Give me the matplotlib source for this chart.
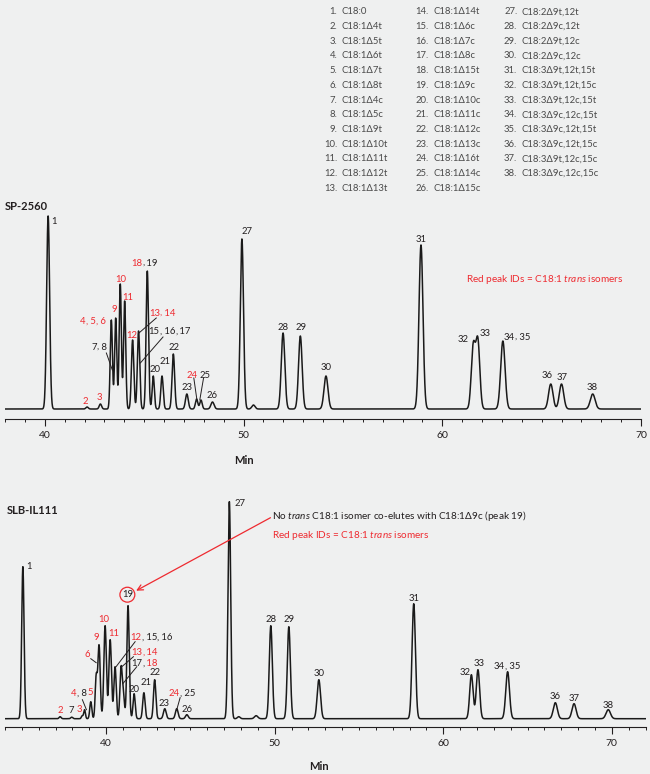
import numpy as np
import matplotlib
matplotlib.use("Agg")
import matplotlib.pyplot as plt
from matplotlib.ticker import MultipleLocator
from matplotlib.offsetbox import TextArea, HPacker, AnnotationBbox

plt.rcParams['font.family'] = ['Lato', 'DejaVu Sans']
plt.rcParams['mathtext.fontset'] = 'custom'
plt.rcParams['mathtext.rm'] = 'Lato'
plt.rcParams['mathtext.it'] = 'Lato:italic'

RED = '#ee2a30'
INK = '#231f20'
BG = '#eff0f0'
FS = 6.8

# ── peak key ────────────────────────────────────────────────────────────
COMPOUNDS = [
    "C18:0", "C18:1Δ4t", "C18:1Δ5t", "C18:1Δ6t", "C18:1Δ7t", "C18:1Δ8t",
    "C18:1Δ4c", "C18:1Δ5c", "C18:1Δ9t", "C18:1Δ10t", "C18:1Δ11t",
    "C18:1Δ12t", "C18:1Δ13t", "C18:1Δ14t", "C18:1Δ6c", "C18:1Δ7c",
    "C18:1Δ8c", "C18:1Δ15t", "C18:1Δ9c", "C18:1Δ10c", "C18:1Δ11c",
    "C18:1Δ12c", "C18:1Δ13c", "C18:1Δ16t", "C18:1Δ14c", "C18:1Δ15c",
    "C18:2Δ9t,12t", "C18:2Δ9c,12t", "C18:2Δ9t,12c", "C18:2Δ9c,12c",
    "C18:3Δ9t,12t,15t", "C18:3Δ9t,12t,15c", "C18:3Δ9t,12c,15t",
    "C18:3Δ9c,12c,15t", "C18:3Δ9c,12t,15t", "C18:3Δ9c,12t,15c",
    "C18:3Δ9t,12c,15c", "C18:3Δ9c,12c,15c",
]
TRANS_IDS = {2, 3, 4, 5, 6, 9, 10, 11, 12, 13, 14, 18, 24}

# ── SP-2560: retention time (min), height, width (sigma, min) ───────────
SP_TIME = [40.17, 42.13, 42.80, 43.35, 43.57, 43.80, 44.02, 44.42, 44.72,
           45.16, 45.46, 45.90, 46.47, 47.15, 47.64, 47.86, 48.44, 49.92,
           50.50, 51.99, 52.86, 54.15, 58.93, 61.56, 61.79, 63.05, 65.46,
           66.00, 67.57]
SP_HEIGHT = [193, 2, 5, 89, 91, 125, 108, 69, 78, 138, 33, 33, 55, 15, 10,
             9, 7, 170, 4, 76, 73, 33, 164, 67, 72, 68, 25, 25, 15]
SP_WIDTH = [0.075, 0.06, 0.06, 0.055, 0.055, 0.055, 0.055, 0.06, 0.06,
            0.06, 0.055, 0.06, 0.065, 0.07, 0.06, 0.06, 0.08, 0.08, 0.08,
            0.09, 0.09, 0.1, 0.1, 0.1, 0.1, 0.11, 0.11, 0.11, 0.12]

SP_LABELS = ["1", "2", "3", "4, 5, 6", "7, 8", "9", "10", "11", "12",
             "13, 14", "15, 16, 17", "18, 19", "20", "21", "22", "23", "24",
             "25", "26", "27", "28", "29", "30", "31", "32", "33", "34, 35",
             "36", "37", "38"]
SP_LAB_X = [40.33, 42.06, 42.76, 42.43, 42.73, 43.50, 43.83, 44.19, 44.37,
            45.91, 46.28, 45.02, 45.53, 46.07, 46.52, 47.14, 47.39, 48.05,
            48.41, 49.91, 51.97, 52.88, 54.16, 58.93, 61.07, 62.15, 63.76,
            65.29, 66.05, 67.52]
SP_LAB_Y = [187, 8, 12, 87, 62, 99, 130, 112, 74, 96, 77, 146, 40, 47, 61,
            22, 34, 34, 14, 177, 82, 82, 41, 170, 70, 75, 72, 33, 32, 22]
SP_LEADERS = [(43.10, 56, 43.40, 39), (45.61, 91, 44.74, 76),
              (45.95, 72, 44.81, 46), (47.50, 31, 47.65, 10),
              (47.99, 31, 47.80, 9)]

# ── SLB-IL111 ───────────────────────────────────────────────────────────
IL_TIME = [35.06, 37.27, 37.96, 38.58, 38.72, 39.09, 39.41, 39.58, 39.94,
           40.24, 40.53, 40.89, 41.03, 41.30, 41.66, 42.24, 42.88, 43.48,
           44.19, 44.79, 47.31, 47.87, 48.90, 49.77, 50.84, 52.62, 58.25,
           61.67, 62.06, 63.82, 66.65, 67.76, 69.79]
IL_HEIGHT = [152, 2, 1.5, 3, 9, 17, 45, 74, 93, 79, 52, 53, 28, 113, 25, 26,
             39, 10, 10, 4, 217, 2, 3, 93, 92, 39, 115, 44, 49, 47, 16, 15, 9]
IL_WIDTH = [0.07, 0.06, 0.06, 0.05, 0.05, 0.06, 0.06, 0.07, 0.075, 0.075,
            0.07, 0.07, 0.06, 0.07, 0.065, 0.07, 0.07, 0.08, 0.08, 0.08,
            0.08, 0.08, 0.1, 0.09, 0.09, 0.1, 0.1, 0.1, 0.1, 0.11, 0.12,
            0.12, 0.13]

IL_LABELS = ["1", "2", "7", "3", "4, 8", "5", "6", "9", "10", "11",
             "12, 15, 16", "13, 14", "17, 18", "20", "21", "22", "23",
             "24, 25", "26", "27", "28", "29", "30", "31", "32", "33",
             "34, 35", "36", "37", "38"]
IL_LAB_X = [35.25, 37.27, 37.92, 38.42, 38.40, 39.05, 38.89, 39.41, 39.88,
            40.43, 42.69, 42.27, 42.27, 41.68, 42.34, 42.88, 43.46, 44.49,
            44.82, 47.59, 49.77, 50.84, 52.62, 58.25, 61.29, 62.12, 63.77,
            66.65, 67.76, 69.79]
IL_LAB_Y = [152, 8, 8, 9, 25, 26, 64, 81, 99, 85, 81, 66, 55, 29, 36, 46,
            15, 25, 9, 215, 99, 99, 45, 120, 46, 55, 52, 22, 20, 13]
IL_LEADERS = [(38.59, 19, 38.83, 9), (39.09, 60, 39.41, 56),
              (41.72, 77, 40.59, 52), (41.62, 62, 40.93, 52),
              (41.82, 52, 40.99, 35), (44.39, 21, 44.19, 9)]
LEFT_LABELS = {"1", "27"}


def trace(t, times, heights, widths):
    times = np.array(times)
    widths = np.array(widths)
    # amplitudes so that the summed signal reaches the read height at each apex
    m = np.exp(-0.5 * ((times[:, None] - times[None, :]) / widths[None, :]) ** 2)
    amp = np.linalg.solve(m, np.array(heights, dtype=float))
    return (amp[None, :] * np.exp(-0.5 * ((t[:, None] - times[None, :]) / widths[None, :]) ** 2)).sum(axis=1)


def draw_label(ax, text, x, y, left=False):
    ids = text.split(", ")
    areas = []
    for i, pid in enumerate(ids):
        red = int(pid) in TRANS_IDS
        s = pid if i == 0 else " " + pid
        areas.append(TextArea(s, textprops=dict(color=RED if red else INK, fontsize=FS)))
        if i < len(ids) - 1:
            both = red and int(ids[i + 1]) in TRANS_IDS
            areas.append(TextArea(",", textprops=dict(color=RED if both else INK, fontsize=FS)))
    box = HPacker(children=areas, align="baseline", pad=0, sep=0)
    ab = AnnotationBbox(box, (x, y), frameon=False, pad=0,
                        box_alignment=(0 if left else 0.5, 0.5))
    ax.add_artist(ab)


def style_axis(ax, x0, x1):
    ax.set_facecolor(BG)
    for s in ["left", "right", "top"]:
        ax.spines[s].set_visible(False)
    ax.spines["bottom"].set_color(INK)
    ax.spines["bottom"].set_linewidth(0.8)
    ax.set_yticks([])
    ax.set_xlim(x0, x1)
    ax.set_xticks(range(40, 71, 10))
    ax.xaxis.set_minor_locator(MultipleLocator(1))
    ax.tick_params(axis="x", which="major", length=5, width=0.8, color=INK,
                   labelsize=7.5, labelcolor=INK, pad=4)
    ax.tick_params(axis="x", which="minor", length=2.4, width=0.7, color=INK)


fig = plt.figure(figsize=(6.5, 7.74), dpi=100, facecolor=BG)

# key table
rows = 13
num_x = [337.3, 428.3, 517.3]
txt_x = [341.7, 433.3, 521.7]
for i, name in enumerate(COMPOUNDS):
    col, row = divmod(i, rows)
    ypx = 11.7 + row * 14.72
    fig.text(num_x[col] / 650, 1 - ypx / 774, f"{i + 1}.", ha="right",
             va="center", fontsize=FS, color="#4a4a4a")
    fig.text(txt_x[col] / 650, 1 - ypx / 774, name, ha="left",
             va="center", fontsize=FS, color="#4a4a4a")

# SP-2560
ax1 = fig.add_axes([5 / 650, 1 - 419 / 774, 636 / 650, 214 / 774])
style_axis(ax1, 38, 70)
ax1.set_ylim(-10, 204)
t1 = np.linspace(38, 70, 9000)
ax1.plot(t1, trace(t1, SP_TIME, SP_HEIGHT, SP_WIDTH), color="#1a1a1a", lw=1.1)
for lab, x, y in zip(SP_LABELS, SP_LAB_X, SP_LAB_Y):
    draw_label(ax1, lab, x, y, left=lab in LEFT_LABELS)
for x0, y0, x1, y1 in SP_LEADERS:
    ax1.plot([x0, x1], [y0, y1], color=INK, lw=0.7)
ax1.text(65.18, 129, r"Red peak IDs = C18:1 $\mathit{trans}$ isomers",
         color=RED, ha="center", va="center", fontsize=7.2)

# SLB-IL111
ax2 = fig.add_axes([5 / 650, 1 - 726.7 / 774, 640.5 / 650, 241.7 / 774])
style_axis(ax2, 34, 72)
ax2.set_ylim(-8, 233.7)
t2 = np.linspace(34, 72, 9000)
ax2.plot(t2, trace(t2, IL_TIME, IL_HEIGHT, IL_WIDTH), color="#1a1a1a", lw=1.1)
for lab, x, y in zip(IL_LABELS, IL_LAB_X, IL_LAB_Y):
    draw_label(ax2, lab, x, y, left=lab in LEFT_LABELS)
for x0, y0, x1, y1 in IL_LEADERS:
    ax2.plot([x0, x1], [y0, y1], color=INK, lw=0.7)
ax2.text(41.26, 124, "19", ha="center", va="center", fontsize=FS, color=INK,
         bbox=dict(boxstyle="circle,pad=0.2", fc="none", ec=RED, lw=0.9))
ax2.annotate("", xy=(41.78, 128), xytext=(49.75, 201),
             arrowprops=dict(arrowstyle="->", color=RED, lw=0.9,
                             shrinkA=0, shrinkB=0))
ax2.text(49.85, 203,
         r"No $\mathit{trans}$ C18:1 isomer co-elutes with C18:1Δ9c (peak 19)",
         color=INK, ha="left", va="center", fontsize=7.2)
ax2.text(49.85, 183, r"Red peak IDs = C18:1 $\mathit{trans}$ isomers",
         color=RED, ha="left", va="center", fontsize=7.2)

fig.text(5 / 650, 1 - 206 / 774, "SP-2560", fontsize=8, fontweight="bold",
         color=INK, ha="left", va="center")
fig.text(7 / 650, 1 - 510 / 774, "SLB-IL111", fontsize=8, fontweight="bold",
         color=INK, ha="left", va="center")
fig.text(244 / 650, 1 - 461 / 774, "Min", fontsize=8, fontweight="bold",
         color=INK, ha="center", va="center")
fig.text(319 / 650, 1 - 766 / 774, "Min", fontsize=8, fontweight="bold",
         color=INK, ha="center", va="center")

fig.savefig("out.png", dpi=100, facecolor=BG)
